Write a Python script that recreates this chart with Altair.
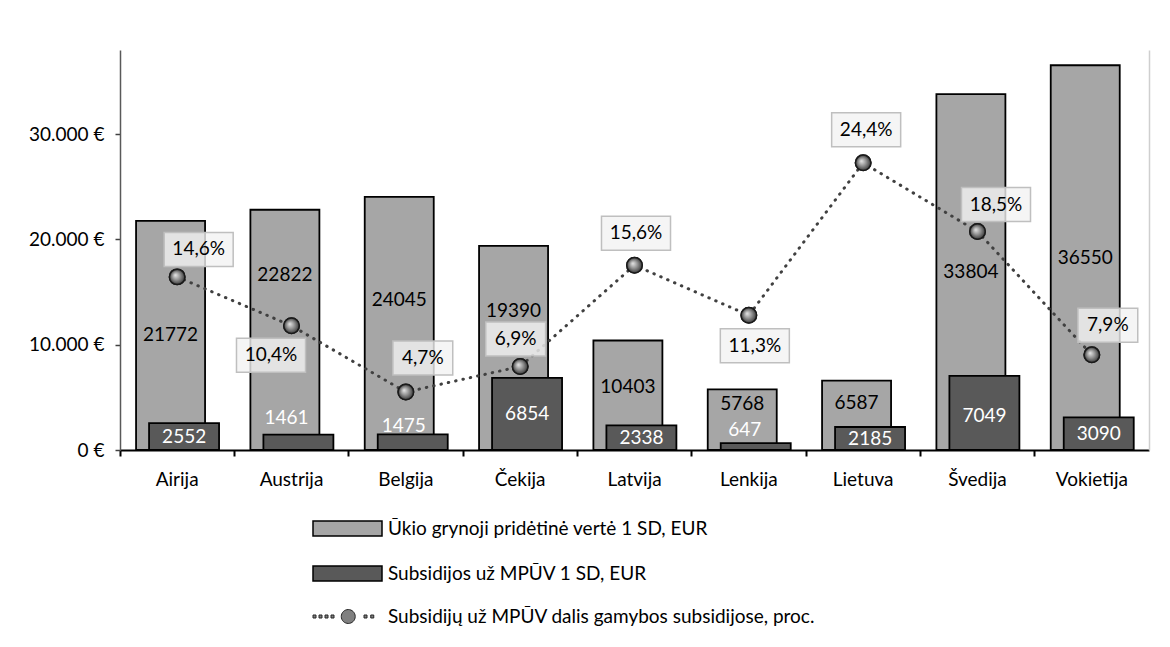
import altair as alt
import pandas as pd

# ---------------- data ----------------
countries = ["Airija", "Austrija", "Belgija", "Čekija", "Latvija",
             "Lenkija", "Lietuva", "Švedija", "Vokietija"]
value_added = [21772, 22822, 24045, 19390, 10403, 5768, 6587, 33804, 36550]
subsidies = [2552, 1461, 1475, 6854, 2338, 647, 2185, 7049, 3090]
subsidy_share = [14.6, 10.4, 4.7, 6.9, 15.6, 11.3, 24.4, 18.5, 7.9]
share_labels = ["14,6%", "10,4%", "4,7%", "6,9%", "15,6%", "11,3%", "24,4%", "18,5%", "7,9%"]
series_names = [
    "Ūkio grynoji pridėtinė vertė 1 SD, EUR",
    "Subsidijos už MPŪV 1 SD, EUR",
    "Subsidijų už MPŪV dalis gamybos subsidijose, proc.",
]
y_ticks = [0, 10000, 20000, 30000]

# ---------------- annotation nudges (pixels), as placed in the original ----------------
va_label_dy = [0, -55, -23, -37, -8, -16, -12, 0, 0]
sub_label_dx = [7, -5, -2, 7, 7, -4, 7, 7, 7]
sub_label_dy = [0, -24, -16, 0, 0, -17, 0, 3, 0]
pct_label_dx = [21.5, -20.5, 17, -4.5, 1.5, 6, 3, 18.5, 16]
pct_label_dy = [-27.5, 29.5, -34, -27.5, -32, 30.5, -33, -27, -29.5]

# ---------------- layout / style ----------------
W, H = 1029, 400
STEP = W / len(countries)
FONT = "Lato"
FS = 19
LIGHT, DARK, MID = "#a6a6a6", "#595959", "#808080"
Y_DOMAIN = [0, 38000]
SHARE_DOMAIN = [-0.28, 34.1]
Y_PER_PX = (Y_DOMAIN[1] - Y_DOMAIN[0]) / H
SHARE_PER_PX = (SHARE_DOMAIN[1] - SHARE_DOMAIN[0]) / H

light_df = pd.DataFrame({"country": countries, "series": series_names[0],
                         "value": value_added, "ldy": va_label_dy})
dark_df = pd.DataFrame({"country": countries, "series": series_names[1],
                        "value": subsidies, "ldx": sub_label_dx, "ldy": sub_label_dy})
line_df = pd.DataFrame({"country": countries, "series": series_names[2],
                        "share": subsidy_share, "label": share_labels,
                        "ldx": pct_label_dx, "ldy": pct_label_dy})

x_enc = alt.X(
    "country:N", sort=countries, title=None,
    scale=alt.Scale(paddingInner=0, paddingOuter=0),
    axis=alt.Axis(labelAngle=0, bandPosition=0,
                  tickSize=6, tickWidth=2, tickColor="black",
                  domainColor="black", domainWidth=2, labelPadding=14, grid=False),
)
y_scale = alt.Scale(domain=Y_DOMAIN, nice=False)
y_axis = alt.Axis(values=y_ticks, grid=False, tickSize=5, tickWidth=1.5,
                  tickColor="#404040", domainColor="#595959", domainWidth=1.5,
                  labelPadding=11,
                  labelExpr="datum.value == 0 ? '0 €' : format(datum.value / 1000, 'd') + '.000 €'")
share_scale = alt.Scale(domain=SHARE_DOMAIN, nice=False, zero=False)
share_axis = alt.Axis(orient="right", labels=False, ticks=False, grid=False,
                      domainColor="#cfcfcf", domainWidth=1.5, title=None)

xoff = alt.XOffset("ldx:Q", scale=alt.Scale(domain=[-100, 100],
                                             range=[-100 + STEP / 2, 100 + STEP / 2]))

bar_symbol = "M-4.6,-1H4.6V1H-4.6Z"
dots = [-4.4, -3.6, -2.8, -2.0, 2.4, 3.3]
line_symbol = "".join(f"M{d - 0.2:.2f},-0.2h0.4v0.4h-0.4Z" for d in dots)
line_symbol += "M-0.83,0A0.93,0.93,0,1,0,1.03,0A0.93,0.93,0,1,0,-0.83,0Z"

color_enc = alt.Color(
    "series:N",
    scale=alt.Scale(domain=series_names[:2], range=[LIGHT, DARK]),
    legend=alt.Legend(orient="none", legendX=218, legendY=469, title=None,
                      direction="vertical", symbolType=bar_symbol, symbolSize=225,
                      symbolStrokeColor="black", symbolStrokeWidth=1.5,
                      labelFont=FONT, labelFontSize=FS, labelColor="black",
                      labelLimit=0, labelOffset=31, rowPadding=24),
)

light_bars = alt.Chart(light_df).mark_bar(
    width=69, xOffset=-6.6, stroke="black", strokeWidth=1.8
).encode(x=x_enc, y=alt.Y("value:Q", scale=y_scale, axis=y_axis, title=None), color=color_enc)

dark_bars = alt.Chart(dark_df).mark_bar(
    width=70, xOffset=6.9, stroke="black", strokeWidth=1.8
).encode(x=x_enc, y=alt.Y("value:Q", scale=y_scale, axis=y_axis, title=None), color=color_enc)

light_text = alt.Chart(light_df).transform_calculate(
    ly=f"datum.value / 2 - datum.ldy * {Y_PER_PX}"
).mark_text(
    font=FONT, fontSize=FS, color="black", xOffset=-6.6
).encode(x=x_enc, y=alt.Y("ly:Q", scale=y_scale, axis=y_axis, title=None),
         text="value:Q")

dark_text = alt.Chart(dark_df).transform_calculate(
    ly=f"datum.value / 2 - datum.ldy * {Y_PER_PX}"
).mark_text(
    font=FONT, fontSize=FS, color="white"
).encode(x=x_enc, y=alt.Y("ly:Q", scale=y_scale, axis=y_axis, title=None),
         xOffset=xoff, text="value:Q")

bars_layer = alt.layer(light_bars, dark_bars, light_text, dark_text)

y_share = alt.Y("share:Q", scale=share_scale, axis=share_axis, title=None)
y_share_label = alt.Y("ly:Q", scale=share_scale, axis=share_axis, title=None)

share_line = alt.Chart(line_df).mark_line(
    color="#404040", strokeWidth=3, strokeDash=[0.5, 7], strokeCap="round"
).encode(x=x_enc, y=y_share)

box_w = "M-2.03,-1H2.03V1H-2.03Z"
box_n = "M-1.76,-1H1.76V1H-1.76Z"
boxes = alt.Chart(line_df).transform_calculate(
    box="length(datum.label) > 4 ? 'w' : 'n'",
    ly=f"datum.share - datum.ldy * {SHARE_PER_PX}",
).mark_point(
    filled=True, fill="#f2f2f2", fillOpacity=0.8, stroke="#bfbfbf",
    strokeWidth=1.5, size=1156, opacity=1
).encode(x=x_enc, y=y_share_label, xOffset=xoff,
         shape=alt.Shape("box:N", scale=alt.Scale(domain=["w", "n"], range=[box_w, box_n]),
                         legend=None))

share_text = alt.Chart(line_df).transform_calculate(
    ly=f"datum.share - datum.ldy * {SHARE_PER_PX}",
).mark_text(
    font=FONT, fontSize=FS, color="black"
).encode(x=x_enc, y=y_share_label, xOffset=xoff, text="label:N")

points_base = alt.Chart(line_df).mark_circle(
    size=240, opacity=1, stroke="#1a1a1a", strokeWidth=1.5
).encode(
    x=x_enc, y=y_share,
    fill=alt.Fill("series:N", scale=alt.Scale(domain=[series_names[2]], range=[MID]),
                  legend=alt.Legend(orient="none", legendX=218, legendY=557, title=None,
                                    symbolType=line_symbol, symbolSize=225,
                                    symbolStrokeColor="#262626", symbolStrokeWidth=1,
                                    labelFont=FONT, labelFontSize=FS, labelColor="black",
                                    labelLimit=0, labelOffset=31)),
)

grad = alt.RadialGradient(
    gradient="radial",
    stops=[alt.GradientStop(color="#e8e8e8", offset=0),
           alt.GradientStop(color="#8c8c8c", offset=0.55),
           alt.GradientStop(color="#3a3a3a", offset=1)],
    x1=0.38, y1=0.38, r1=0, x2=0.5, y2=0.5, r2=0.5,
)
points_grad = alt.Chart(line_df).mark_circle(
    size=240, opacity=1, fill=grad, stroke="#1a1a1a", strokeWidth=1.5
).encode(x=x_enc, y=y_share)

line_layer = alt.layer(share_line, boxes, share_text, points_base, points_grad)

chart = alt.layer(bars_layer, line_layer).resolve_scale(y="independent").properties(
    width=W, height=H,
    padding={"left": 112, "top": 42, "right": 10, "bottom": 190},
    autosize=alt.AutoSizeParams(type="none"),
).configure_view(stroke=None).configure_axis(
    labelFont=FONT, labelFontSize=FS, labelColor="black"
)

chart.save("out.html", embed_options={"renderer": "svg", "actions": False})
